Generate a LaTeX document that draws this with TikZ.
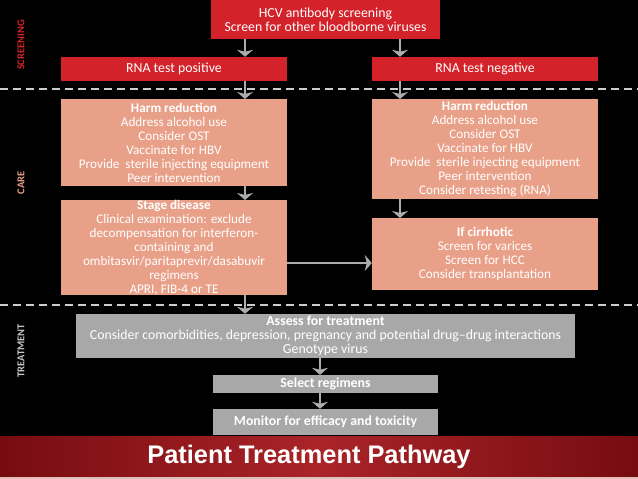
\documentclass[tikz,border=0pt]{standalone}
\usepackage{fontspec}
\setmainfont{Carlito}
\newfontfamily\titlefont{Liberation Sans}
\usetikzlibrary{arrows.meta}

\definecolor{boxred}{RGB}{211,34,42}
\definecolor{salmon}{RGB}{233,160,136}
\definecolor{boxgrey}{RGB}{168,168,168}
\definecolor{arrowgrey}{RGB}{172,172,172}
\definecolor{bandred}{RGB}{170,36,40}
\definecolor{banddark}{RGB}{118,12,16}
\definecolor{bandedge}{RGB}{225,190,190}
\definecolor{lineGrey}{RGB}{205,205,205}
\definecolor{labelgrey}{RGB}{200,200,200}

\tikzset{
  flowbox/.style={text=white, align=center, inner sep=0pt,
    font=\fontsize{13.2}{14}\selectfont},
  redbox/.style={flowbox, fill=boxred, font=\fontsize{13.8}{14}\selectfont},
  harmbox/.style={flowbox, fill=salmon, anchor=north},
  greybox/.style={flowbox, fill=boxgrey, font=\fontsize{13.8}{14}\selectfont},
  flowarrow/.style={draw=arrowgrey, line width=1.6pt,
    -{Stealth[width=16pt,length=7pt,inset=2pt]}},
  sidelabel/.style={rotate=90, font=\fontsize{10.5}{10.5}\selectfont\bfseries},
  divider/.style={draw=lineGrey, line width=1.2pt,
    dash pattern=on 8pt off 5pt}
}

\begin{document}
\begin{tikzpicture}[x=1pt,y=-1pt]
  \useasboundingbox (0,0) rectangle (638,479);
  \fill[black] (0,0) rectangle (638,479);

  % banner
  \shade[left color=banddark, right color=banddark, middle color=bandred]
    (0,436) rectangle (638,477);
  \fill[bandedge] (0,477) rectangle (638,479);
  \node[text=white, font=\titlefont\fontsize{25.4}{25.4}\selectfont\bfseries]
    (title) at (309,457) {Patient Treatment Pathway};

  % section lines
  \draw[divider] (0,89) -- (638,89);
  \draw[divider] (0,305) -- (638,305);

  \node[sidelabel, text=boxred] (screening) at (21,45) {SCREENING};
  \node[sidelabel, text=salmon] (care) at (21,183) {CARE};
  \node[sidelabel, text=labelgrey] (treatment) at (21,351) {TREATMENT};

  % screening
  \node[redbox, minimum width=229pt, minimum height=39pt] (hcv) at (325.5,19.5)
    {HCV antibody screening\\Screen for other bloodborne viruses};
  \node[redbox, minimum width=226pt, minimum height=24pt] (pos) at (174,69)
    {RNA test positive};
  \node[redbox, minimum width=226pt, minimum height=24pt] (neg) at (485,69)
    {RNA test negative};

  % care
  \node[harmbox, minimum width=226pt, minimum height=87pt] (harmL) at (174,99)
    {\textbf{Harm reduction}\\Address alcohol use\\Consider OST\\Vaccinate for HBV\\
     Provide\ \ sterile injecting equipment\\Peer intervention};
  \node[harmbox, minimum width=226pt, minimum height=100pt] (harmR) at (485,99)
    {\textbf{Harm reduction}\\Address alcohol use\\Consider OST\\Vaccinate for HBV\\
     Provide\ \ sterile injecting equipment\\Peer intervention\\Consider retesting (RNA)};
  \node[harmbox, minimum width=226pt, minimum height=95pt] (stage) at (174,200)
    {\textbf{Stage disease}\\Clinical examination: exclude\\decompensation for interferon-\\
     containing and\\ombitasvir/paritaprevir/dasabuvir\\regimens\\APRI, FIB-4 or TE};
  \node[harmbox, minimum width=226pt, minimum height=72pt] (cirr) at (485,218)
    {\textbf{If cirrhotic}\\Screen for varices\\Screen for HCC\\Consider transplantation};

  % treatment
  \node[greybox, minimum width=499pt, minimum height=44pt] (assess) at (325.5,336)
    {\textbf{Assess for treatment}\\
     Consider comorbidities, depression, pregnancy and potential drug--drug interactions\\
     Genotype virus};
  \node[greybox, minimum width=225pt, minimum height=18pt, font=\fontsize{13.8}{14}\selectfont\bfseries]
    (select) at (325.5,384) {Select regimens};
  \node[greybox, minimum width=225pt, minimum height=26pt, font=\fontsize{13.8}{14}\selectfont\bfseries]
    (monitor) at (325.5,422) {Monitor for efficacy and toxicity};

  % arrows
  \draw[flowarrow] (hcv.south -| 245,0) -- (pos.north -| 245,0);
  \draw[flowarrow] (hcv.south -| 400,0) -- (neg.north -| 400,0);
  \draw[flowarrow] (pos.south -| 245,0) -- (harmL.north -| 245,0);
  \draw[flowarrow] (neg.south -| 400,0) -- (harmR.north -| 400,0);
  \draw[flowarrow] (harmL.south -| 245,0) -- (stage.north -| 245,0);
  \draw[flowarrow] (harmR.south -| 400,0) -- (cirr.north -| 400,0);
  \draw[flowarrow] (stage.east |- 0,263) -- (cirr.west |- 0,263);
  \draw[flowarrow] (stage.south -| 245,0) -- (assess.north -| 245,0);
  \draw[flowarrow] (assess.south -| 320,0) -- (select.north -| 320,0);
  \draw[flowarrow] (select.south -| 320,0) -- (monitor.north -| 320,0);
\end{tikzpicture}
\end{document}
